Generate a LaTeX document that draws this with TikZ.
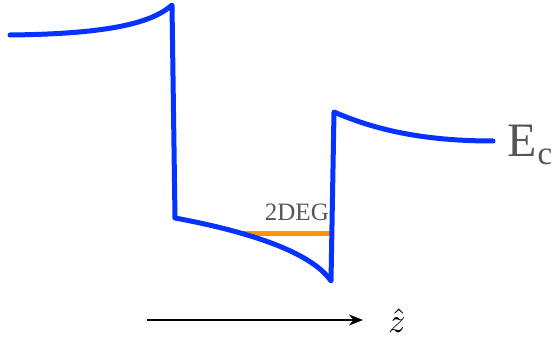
\documentclass[tikz,border=0pt]{standalone}
\usepackage{fontspec}
\setmainfont{Liberation Serif}
\usetikzlibrary{arrows.meta}
\definecolor{bandblue}{HTML}{0532FF}
\definecolor{gasorange}{HTML}{FF9300}
\definecolor{labelgray}{HTML}{555555}
\begin{document}
\begin{tikzpicture}[x=1pt,y=-1pt,
  band/.style={draw=bandblue,line width=5pt,line join=round,line cap=round},
  gas/.style={draw=gasorange,line width=5pt},
  axis/.style={draw=black,line width=2.4pt,-{Stealth[length=14pt,width=11pt]}},
  lbl/.style={text=labelgray,inner sep=0pt}]
\useasboundingbox (0,0) rectangle (556,339);
% coordinates of the band edge
\coordinate (p0) at (10,35);
\coordinate (p1) at (172,5);
\coordinate (p2) at (175,218);
\coordinate (p3) at (331,281);
\coordinate (p4) at (334,112);
\coordinate (p5) at (493,141);
% 2DEG level
\coordinate (g0) at (243,233);
\coordinate (g1) at (331,233);
\draw[gas] (g0) -- (g1);
\draw[band] (p0) .. controls (100,34) and (150,25) .. (p1)
  -- (p2) .. controls (240,230) and (310,250) .. (p3)
  -- (p4) .. controls (380,132) and (430,141) .. (p5);
\node[lbl,anchor=base east] (deg) at (329,220) {\fontsize{25}{25}\selectfont 2DEG};
\node[lbl,anchor=base west] (ec) at (507,157) {\fontsize{48}{48}\selectfont E\kern1pt\raisebox{-8pt}{\fontsize{33}{33}\selectfont c}};
% axis
\coordinate (a0) at (147,320);
\coordinate (a1) at (363,320);
\draw[axis] (a0) -- (a1);
\node[inner sep=0pt,anchor=base] (z) at (397,332) {\scalebox{3.4}{$\hat{z}$}};
\end{tikzpicture}
\end{document}
